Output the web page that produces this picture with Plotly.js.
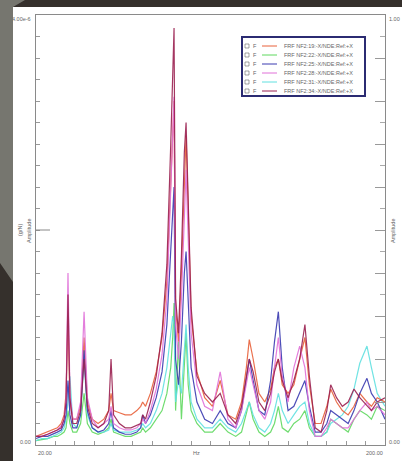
<!DOCTYPE html>
<html>
<head>
<meta charset="utf-8">
<script src="https://cdn.plot.ly/plotly-3.0.1.min.js"></script>
<style>
  html, body { margin:0; padding:0; width:402px; height:461px; overflow:hidden; background:#35302c; }
  #grey { position:absolute; left:0; top:0; width:30px; height:290px; background:#76766f;
          clip-path: polygon(0 0, 25px 0, 13px 7px, 13px 282px, 0 263px); }
  #chart { position:absolute; left:13px; top:7px; width:389px; height:454px; background:#fff; }
</style>
</head>
<body>
<div id="grey"></div>
<div id="chart"></div>
<script>
// Frequency grid (Hz)
const freq = [20, 23, 26, 29, 31, 33, 34.5, 35.5, 36.5, 37.5,
  39, 41, 43, 44.8, 46.5, 49, 52, 55, 57.5, 58.7,
  60, 63, 66, 69, 72, 74, 75, 76.5, 79, 82,
  85, 87.5, 89.5, 90.5, 91.2, 92, 93.5, 95, 96.5, 97.4,
  98.5, 100, 103, 107, 111, 115, 119, 123, 126, 128.5,
  130, 132, 135, 138, 141, 143, 145, 147, 150, 153,
  156, 158.7, 161, 164, 167, 170, 172, 175, 178, 181,
  184, 187, 190.7, 193, 196, 200];

// Amplitudes (normalised to full scale)
const nf2_19 = [0.02, 0.025, 0.03, 0.035, 0.04, 0.05, 0.07, 0.12, 0.30, 0.10,
  0.06, 0.06, 0.09, 0.25, 0.10, 0.06, 0.05, 0.06, 0.08, 0.12,
  0.08, 0.075, 0.07, 0.07, 0.08, 0.09, 0.10, 0.09, 0.12, 0.17,
  0.25, 0.38, 0.60, 0.72, 0.80, 0.32, 0.24, 0.40, 0.62, 0.72,
  0.55, 0.30, 0.17, 0.11, 0.09, 0.15, 0.07, 0.06, 0.10, 0.18,
  0.245, 0.20, 0.12, 0.10, 0.13, 0.18, 0.20, 0.14, 0.12, 0.14,
  0.20, 0.25, 0.14, 0.05, 0.05, 0.09, 0.13, 0.10, 0.08, 0.07,
  0.09, 0.12, 0.10, 0.09, 0.11, 0.10];
const nf2_22 = [0.01, 0.012, 0.015, 0.02, 0.02, 0.025, 0.03, 0.04, 0.08, 0.05,
  0.03, 0.03, 0.05, 0.12, 0.05, 0.03, 0.025, 0.03, 0.04, 0.06,
  0.03, 0.025, 0.02, 0.02, 0.025, 0.03, 0.04, 0.03, 0.04, 0.06,
  0.08, 0.12, 0.18, 0.25, 0.33, 0.08, 0.24, 0.06, 0.18, 0.26,
  0.14, 0.08, 0.05, 0.03, 0.03, 0.05, 0.03, 0.02, 0.03, 0.07,
  0.10, 0.06, 0.03, 0.02, 0.03, 0.05, 0.09, 0.04, 0.03, 0.05,
  0.06, 0.08, 0.04, 0.02, 0.02, 0.03, 0.06, 0.05, 0.04, 0.03,
  0.06, 0.08, 0.07, 0.06, 0.09, 0.08];
const nf2_25 = [0.015, 0.02, 0.02, 0.025, 0.03, 0.035, 0.05, 0.07, 0.15, 0.07,
  0.04, 0.04, 0.07, 0.22, 0.08, 0.04, 0.03, 0.035, 0.05, 0.08,
  0.04, 0.03, 0.025, 0.025, 0.03, 0.04, 0.07, 0.05, 0.07, 0.11,
  0.17, 0.28, 0.45, 0.55, 0.60, 0.20, 0.14, 0.24, 0.40, 0.45,
  0.33, 0.18, 0.10, 0.06, 0.05, 0.08, 0.05, 0.04, 0.08, 0.15,
  0.20, 0.15, 0.08, 0.07, 0.15, 0.24, 0.31, 0.18, 0.08, 0.09,
  0.12, 0.15, 0.09, 0.03, 0.03, 0.05, 0.08, 0.07, 0.06, 0.05,
  0.08, 0.12, 0.155, 0.12, 0.10, 0.06];
const nf2_28 = [0.02, 0.02, 0.025, 0.03, 0.035, 0.045, 0.06, 0.11, 0.40, 0.12,
  0.06, 0.06, 0.10, 0.31, 0.11, 0.06, 0.04, 0.05, 0.06, 0.09,
  0.05, 0.04, 0.035, 0.035, 0.04, 0.05, 0.06, 0.05, 0.08, 0.13,
  0.21, 0.34, 0.58, 0.72, 0.81, 0.28, 0.20, 0.34, 0.55, 0.64,
  0.48, 0.26, 0.14, 0.09, 0.08, 0.17, 0.06, 0.04, 0.08, 0.14,
  0.18, 0.14, 0.08, 0.06, 0.10, 0.18, 0.25, 0.16, 0.10, 0.18,
  0.23, 0.18, 0.08, 0.02, 0.02, 0.04, 0.06, 0.05, 0.04, 0.04,
  0.06, 0.08, 0.10, 0.08, 0.09, 0.07];
const nf2_31 = [0.01, 0.015, 0.015, 0.02, 0.025, 0.03, 0.04, 0.06, 0.10, 0.16,
  0.05, 0.04, 0.07, 0.20, 0.07, 0.04, 0.03, 0.03, 0.035, 0.05,
  0.035, 0.03, 0.03, 0.03, 0.035, 0.04, 0.05, 0.04, 0.05, 0.08,
  0.12, 0.18, 0.26, 0.30, 0.28, 0.10, 0.15, 0.12, 0.22, 0.28,
  0.18, 0.10, 0.06, 0.04, 0.04, 0.06, 0.04, 0.03, 0.05, 0.08,
  0.10, 0.07, 0.04, 0.03, 0.05, 0.08, 0.12, 0.08, 0.05, 0.07,
  0.09, 0.10, 0.05, 0.02, 0.02, 0.03, 0.05, 0.06, 0.07, 0.09,
  0.13, 0.19, 0.23, 0.18, 0.12, 0.09];
const nf2_34 = [0.02, 0.02, 0.025, 0.03, 0.035, 0.04, 0.06, 0.10, 0.35, 0.11,
  0.05, 0.05, 0.08, 0.20, 0.09, 0.05, 0.04, 0.05, 0.08, 0.20,
  0.07, 0.05, 0.04, 0.04, 0.045, 0.05, 0.07, 0.06, 0.10, 0.16,
  0.26, 0.42, 0.70, 0.85, 0.97, 0.34, 0.26, 0.44, 0.68, 0.75,
  0.58, 0.32, 0.16, 0.12, 0.10, 0.12, 0.07, 0.05, 0.09, 0.16,
  0.20, 0.17, 0.10, 0.08, 0.12, 0.17, 0.20, 0.15, 0.11, 0.15,
  0.20, 0.28, 0.16, 0.04, 0.03, 0.08, 0.14, 0.11, 0.09, 0.10,
  0.13, 0.11, 0.09, 0.08, 0.10, 0.11];

const seriesNames = ["FRF NF2:19:-X/NDE:Ref:+X", "FRF NF2:22:-X/NDE:Ref:+X", "FRF NF2:25:-X/NDE:Ref:+X",
                     "FRF NF2:28:-X/NDE:Ref:+X", "FRF NF2:31:-X/NDE:Ref:+X", "FRF NF2:34:-X/NDE:Ref:+X"];
const seriesValues = [nf2_19, nf2_22, nf2_25, nf2_28, nf2_31, nf2_34];
const seriesColors = ["#e8603a", "#5fd85f", "#3a3ab0", "#e070d8", "#60e0e0", "#9a2050"];

const leftTickText = ["0.00", "4.00e-6"];
const rightTickText = ["0.00", "1.00"];
const xTickText = ["20.00", "200.00"];
const xTitle = "Hz";

// pixel -> paper helpers (plot area: x 36..385, y 15..445 in page pixels)
const PX = x => (x - 36) / 349;
const PY = y => (445 - y) / 430;

const drawOrder = [1, 4, 0, 2, 3, 5];
const traces = drawOrder.map(i => ({
  x: freq, y: seriesValues[i], type: 'scatter', mode: 'lines',
  name: seriesNames[i], line: {color: seriesColors[i], width: 1.2}, opacity: 0.9,
  showlegend: false, hoverinfo: 'skip'
}));

const font = {family: 'Liberation Sans, Arial, sans-serif', size: 5.5, color: '#666'};
const annotations = [];
const shapes = [];
function ann(text, x, y, xa, ya, extra) {
  annotations.push(Object.assign({text, x, y, xref: 'paper', yref: 'paper', xanchor: xa, yanchor: ya,
    showarrow: false, font}, extra || {}));
}
ann(leftTickText[1], PX(33), PY(19), 'right', 'middle');
ann(leftTickText[0], PX(33), PY(442), 'right', 'middle');
ann(rightTickText[1], PX(387), PY(19), 'left', 'middle');
ann(rightTickText[0], PX(387), PY(442), 'left', 'middle');
ann(xTickText[0], PX(36), PY(453), 'left', 'middle');
ann(xTickText[1], PX(385), PY(453), 'right', 'middle');
ann(xTitle, PX(196), PY(453), 'center', 'middle');
ann('(g/N)', PX(20), PY(230), 'center', 'middle', {textangle: -90});
ann('Amplitude', PX(29), PY(231), 'center', 'middle', {textangle: -90});
ann('Amplitude', PX(393), PY(231), 'center', 'middle', {textangle: -90});

// long middle tick on left axis
shapes.push({type: 'line', xref: 'paper', yref: 'paper', x0: 0, x1: PX(50), y0: 0.5, y1: 0.5,
  line: {color: '#888', width: 1}});

// legend box
shapes.push({type: 'rect', xref: 'paper', yref: 'paper', x0: PX(242), x1: PX(365), y0: PY(96), y1: PY(37),
  line: {color: '#2b2b72', width: 2}, fillcolor: '#fff'});
seriesNames.forEach((nm, i) => {
  const yc = 46 + 9 * i;
  shapes.push({type: 'rect', xref: 'paper', yref: 'paper', x0: PX(245), x1: PX(249), y0: PY(yc + 2), y1: PY(yc - 2),
    line: {color: '#666', width: 0.6}, fillcolor: '#fff'});
  shapes.push({type: 'line', xref: 'paper', yref: 'paper', x0: PX(262), x1: PX(277), y0: PY(yc), y1: PY(yc),
    line: {color: seriesColors[i], width: 1}});
  ann('F', PX(251), PY(yc), 'left', 'middle');
  ann(nm, PX(282), PY(yc), 'left', 'middle');
});

const layout = {
  width: 389, height: 454,
  margin: {l: 23, r: 17, t: 8, b: 16, pad: 0},
  paper_bgcolor: '#fff', plot_bgcolor: '#fff',
  showlegend: false,
  xaxis: {range: [20, 200], showgrid: false, zeroline: false, showline: true, linecolor: '#8a8a8a', linewidth: 1,
    mirror: true, ticks: 'inside', dtick: 10, tick0: 20, ticklen: 4, tickcolor: '#999', showticklabels: false},
  yaxis: {range: [0, 1], showgrid: false, zeroline: false, showline: true, linecolor: '#8a8a8a', linewidth: 1,
    ticks: 'inside', dtick: 0.05, tick0: 0, ticklen: 4, tickcolor: '#999', showticklabels: false},
  yaxis2: {range: [0, 1], overlaying: 'y', side: 'right', showgrid: false, zeroline: false, showline: true,
    linecolor: '#8a8a8a', linewidth: 1, ticks: 'inside', dtick: 0.1, tick0: 0, ticklen: 10, tickcolor: '#999',
    showticklabels: false, minor: {ticks: 'inside', dtick: 0.05, ticklen: 5, tickcolor: '#aaa'}},
  shapes, annotations
};
// invisible trace so yaxis2 is drawn
traces.unshift({x: [20], y: [0], yaxis: 'y2', type: 'scatter', mode: 'markers', marker: {opacity: 0},
  showlegend: false, hoverinfo: 'skip'});

Plotly.newPlot('chart', traces, layout, {displayModeBar: false, staticPlot: true});
</script>
</body>
</html>
